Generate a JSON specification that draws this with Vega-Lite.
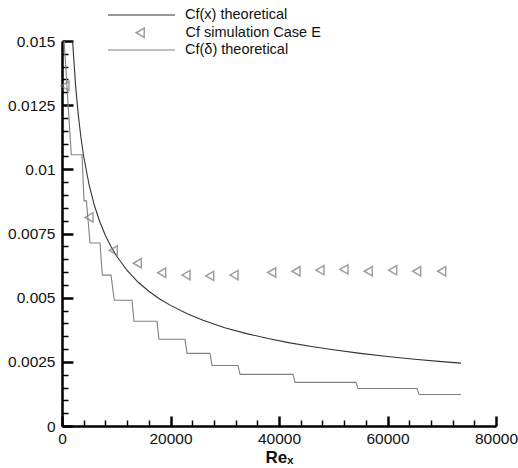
{
  "$schema": "https://vega.github.io/schema/vega-lite/v6.json",
  "width": 434,
  "height": 385,
  "autosize": {"type": "none"},
  "padding": {"left": 62, "top": 41, "right": 22, "bottom": 42},
  "background": "white",
  "config": {
    "view": {"stroke": null},
    "font": "Liberation Sans",
    "axis": {
      "grid": false,
      "domainColor": "black",
      "domainWidth": 2.5,
      "tickColor": "black",
      "labelColor": "#111",
      "labelFont": "Liberation Sans",
      "labelFontSize": 15.5,
      "titleColor": "#111",
      "labelOverlap": false
    },
    "legend": {
      "padding": 0,
      "labelFont": "Liberation Sans",
      "labelFontSize": 14.5,
      "labelColor": "#111",
      "title": null
    }
  },
  "datasets": {
    "curve": [
      {"Re": 1800, "Cf": 0.01565, "series": "Cf(x) theoretical"},
      {"Re": 2000, "Cf": 0.01485, "series": "Cf(x) theoretical"},
      {"Re": 2500, "Cf": 0.01328, "series": "Cf(x) theoretical"},
      {"Re": 3000, "Cf": 0.01212, "series": "Cf(x) theoretical"},
      {"Re": 3500, "Cf": 0.01122, "series": "Cf(x) theoretical"},
      {"Re": 4000, "Cf": 0.0105, "series": "Cf(x) theoretical"},
      {"Re": 5000, "Cf": 0.00939, "series": "Cf(x) theoretical"},
      {"Re": 6000, "Cf": 0.00857, "series": "Cf(x) theoretical"},
      {"Re": 7000, "Cf": 0.00794, "series": "Cf(x) theoretical"},
      {"Re": 8000, "Cf": 0.00742, "series": "Cf(x) theoretical"},
      {"Re": 9000, "Cf": 0.007, "series": "Cf(x) theoretical"},
      {"Re": 10000, "Cf": 0.00664, "series": "Cf(x) theoretical"},
      {"Re": 12000, "Cf": 0.00606, "series": "Cf(x) theoretical"},
      {"Re": 14000, "Cf": 0.00561, "series": "Cf(x) theoretical"},
      {"Re": 16000, "Cf": 0.00525, "series": "Cf(x) theoretical"},
      {"Re": 18000, "Cf": 0.00495, "series": "Cf(x) theoretical"},
      {"Re": 20000, "Cf": 0.0047, "series": "Cf(x) theoretical"},
      {"Re": 23000, "Cf": 0.00438, "series": "Cf(x) theoretical"},
      {"Re": 26000, "Cf": 0.00412, "series": "Cf(x) theoretical"},
      {"Re": 30000, "Cf": 0.00383, "series": "Cf(x) theoretical"},
      {"Re": 34000, "Cf": 0.0036, "series": "Cf(x) theoretical"},
      {"Re": 38000, "Cf": 0.00341, "series": "Cf(x) theoretical"},
      {"Re": 42000, "Cf": 0.00324, "series": "Cf(x) theoretical"},
      {"Re": 46000, "Cf": 0.0031, "series": "Cf(x) theoretical"},
      {"Re": 50000, "Cf": 0.00297, "series": "Cf(x) theoretical"},
      {"Re": 55000, "Cf": 0.00283, "series": "Cf(x) theoretical"},
      {"Re": 60000, "Cf": 0.00271, "series": "Cf(x) theoretical"},
      {"Re": 65000, "Cf": 0.0026, "series": "Cf(x) theoretical"},
      {"Re": 70000, "Cf": 0.00251, "series": "Cf(x) theoretical"},
      {"Re": 73550, "Cf": 0.00245, "series": "Cf(x) theoretical"}
    ],
    "step": [
      {"i": 1, "Re": 300, "Cf": 0.0153, "series": "Cf(δ) theoretical"},
      {"i": 2, "Re": 1710, "Cf": 0.01057, "series": "Cf(δ) theoretical"},
      {"i": 3, "Re": 3690, "Cf": 0.01057, "series": "Cf(δ) theoretical"},
      {"i": 4, "Re": 4060, "Cf": 0.00877, "series": "Cf(δ) theoretical"},
      {"i": 5, "Re": 4500, "Cf": 0.00877, "series": "Cf(δ) theoretical"},
      {"i": 6, "Re": 5160, "Cf": 0.00713, "series": "Cf(δ) theoretical"},
      {"i": 7, "Re": 7000, "Cf": 0.00713, "series": "Cf(δ) theoretical"},
      {"i": 8, "Re": 7430, "Cf": 0.00588, "series": "Cf(δ) theoretical"},
      {"i": 9, "Re": 9030, "Cf": 0.00588, "series": "Cf(δ) theoretical"},
      {"i": 10, "Re": 9640, "Cf": 0.0049, "series": "Cf(δ) theoretical"},
      {"i": 11, "Re": 12900, "Cf": 0.0049, "series": "Cf(δ) theoretical"},
      {"i": 12, "Re": 13270, "Cf": 0.00408, "series": "Cf(δ) theoretical"},
      {"i": 13, "Re": 17510, "Cf": 0.00408, "series": "Cf(δ) theoretical"},
      {"i": 14, "Re": 17880, "Cf": 0.00338, "series": "Cf(δ) theoretical"},
      {"i": 15, "Re": 22670, "Cf": 0.00338, "series": "Cf(δ) theoretical"},
      {"i": 16, "Re": 23040, "Cf": 0.00283, "series": "Cf(δ) theoretical"},
      {"i": 17, "Re": 27280, "Cf": 0.00283, "series": "Cf(δ) theoretical"},
      {"i": 18, "Re": 27650, "Cf": 0.00236, "series": "Cf(δ) theoretical"},
      {"i": 19, "Re": 32440, "Cf": 0.00236, "series": "Cf(δ) theoretical"},
      {"i": 20, "Re": 32810, "Cf": 0.00201, "series": "Cf(δ) theoretical"},
      {"i": 21, "Re": 42580, "Cf": 0.00201, "series": "Cf(δ) theoretical"},
      {"i": 22, "Re": 42950, "Cf": 0.0017, "series": "Cf(δ) theoretical"},
      {"i": 23, "Re": 54190, "Cf": 0.0017, "series": "Cf(δ) theoretical"},
      {"i": 24, "Re": 54560, "Cf": 0.00146, "series": "Cf(δ) theoretical"},
      {"i": 25, "Re": 65440, "Cf": 0.00146, "series": "Cf(δ) theoretical"},
      {"i": 26, "Re": 65810, "Cf": 0.00123, "series": "Cf(δ) theoretical"},
      {"i": 27, "Re": 73550, "Cf": 0.00123, "series": "Cf(δ) theoretical"}
    ],
    "sim": [
      {"Re": 553, "Cf": 0.01325, "series": "Cf simulation Case E"},
      {"Re": 4977, "Cf": 0.00813, "series": "Cf simulation Case E"},
      {"Re": 9456, "Cf": 0.00684, "series": "Cf simulation Case E"},
      {"Re": 13880, "Cf": 0.00634, "series": "Cf simulation Case E"},
      {"Re": 18378, "Cf": 0.00597, "series": "Cf simulation Case E"},
      {"Re": 22857, "Cf": 0.00588, "series": "Cf simulation Case E"},
      {"Re": 27231, "Cf": 0.00585, "series": "Cf simulation Case E"},
      {"Re": 31705, "Cf": 0.00588, "series": "Cf simulation Case E"},
      {"Re": 38654, "Cf": 0.00598, "series": "Cf simulation Case E"},
      {"Re": 43133, "Cf": 0.00603, "series": "Cf simulation Case E"},
      {"Re": 47557, "Cf": 0.00607, "series": "Cf simulation Case E"},
      {"Re": 51981, "Cf": 0.0061, "series": "Cf simulation Case E"},
      {"Re": 56460, "Cf": 0.00603, "series": "Cf simulation Case E"},
      {"Re": 60958, "Cf": 0.00607, "series": "Cf simulation Case E"},
      {"Re": 65381, "Cf": 0.00603, "series": "Cf simulation Case E"},
      {"Re": 69990, "Cf": 0.00603, "series": "Cf simulation Case E"}
    ]
  },
  "encoding": {
    "x": {
      "field": "Re", "type": "quantitative",
      "scale": {"domain": [0, 80000], "nice": false, "zero": true},
      "axis": {
        "orient": "bottom",
        "values": [0, 4000, 8000, 12000, 16000, 20000, 24000, 28000, 32000, 36000, 40000, 44000, 48000, 52000, 56000, 60000, 64000, 68000, 72000, 76000, 80000],
        "labelExpr": "datum.value % 20000 === 0 ? format(datum.value, 'd') : ''",
        "labelOverlap": false,
        "tickSize": {"condition": {"test": "datum.value % 20000 === 0", "value": -10}, "value": -6},
        "tickWidth": {"condition": {"test": "datum.value % 20000 === 0", "value": 2.5}, "value": 1.5},
        "labelPadding": 15,
        "labelFlush": false,
        "title": "Reₓ",
        "titleFont": "Liberation Sans",
        "titleFontWeight": "bold",
        "titleFontSize": 17,
        "titlePadding": -1
      }
    },
    "y": {
      "field": "Cf", "type": "quantitative",
      "scale": {"domain": [0, 0.015], "nice": false, "zero": true},
      "axis": {
        "orient": "left",
        "values": [0, 0.0005, 0.001, 0.0015, 0.002, 0.0025, 0.003, 0.0035, 0.004, 0.0045, 0.005, 0.0055, 0.006, 0.0065, 0.007, 0.0075, 0.008, 0.0085, 0.009, 0.0095, 0.01, 0.0105, 0.011, 0.0115, 0.012, 0.0125, 0.013, 0.0135, 0.014, 0.0145, 0.015],
        "labelExpr": "abs(datum.value / 0.0025 - round(datum.value / 0.0025)) < 0.000001 ? format(datum.value, '.4~f') : ''",
        "labelOverlap": false,
        "tickSize": {"condition": {"test": "abs(datum.value / 0.0025 - round(datum.value / 0.0025)) < 0.000001", "value": -11}, "value": -6},
        "tickWidth": {"condition": {"test": "abs(datum.value / 0.0025 - round(datum.value / 0.0025)) < 0.000001", "value": 2.5}, "value": 1.5},
        "labelPadding": 18,
        "labelFlush": false,
        "title": null
      }
    }
  },
  "layer": [
    {
      "data": {"name": "curve"},
      "mark": {"type": "line", "clip": true, "strokeWidth": 1.1},
      "encoding": {
        "color": {
          "field": "series", "type": "nominal",
          "scale": {"range": ["#333333"]},
          "legend": {
            "orient": "none",
            "legendX": 45,
            "legendY": -60.5,
            "symbolType": "stroke",
            "symbolSize": 4489,
            "symbolStrokeWidth": 1.2,
            "labelOffset": 9
          }
        }
      }
    },
    {
      "data": {"name": "step"},
      "mark": {"type": "line", "clip": true, "strokeWidth": 1.1, "color": "#808080"},
      "encoding": {
        "order": {"field": "i", "type": "quantitative"},
        "strokeDash": {
          "field": "series", "type": "nominal",
          "scale": {"range": [[1, 0]]},
          "legend": {
            "orient": "none",
            "legendX": 45,
            "legendY": -25.5,
            "symbolType": "stroke",
            "symbolSize": 4489,
            "symbolStrokeColor": "#808080",
            "symbolStrokeWidth": 1.2,
            "labelOffset": 9
          }
        }
      }
    },
    {
      "data": {"name": "sim"},
      "mark": {"type": "point", "filled": false, "clip": false, "size": 85, "strokeWidth": 1.5, "color": "#777777"},
      "encoding": {
        "shape": {
          "field": "series", "type": "nominal",
          "scale": {"range": ["triangle-left"]},
          "legend": {
            "orient": "none",
            "legendX": 71,
            "legendY": -15.5,
            "symbolSize": 85,
            "symbolStrokeColor": "#777777",
            "symbolFillColor": "transparent",
            "symbolStrokeWidth": 1.5,
            "labelOffset": 38
          }
        }
      }
    }
  ]
}
